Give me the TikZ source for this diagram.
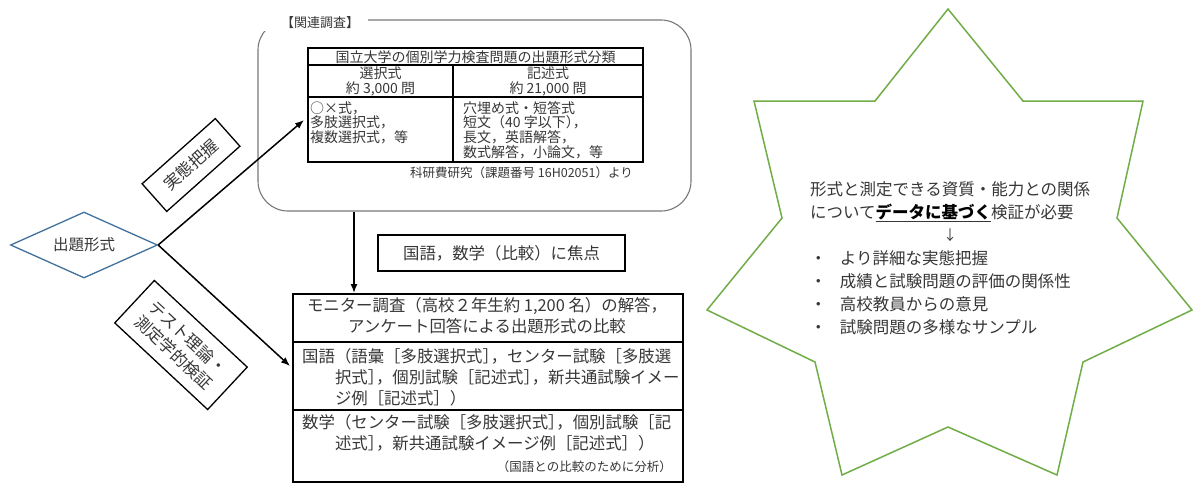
\documentclass[tikz,border=0pt]{standalone}
\usepackage{fontspec}
\setmainfont{Noto Sans CJK JP}
\usetikzlibrary{arrows.meta,shapes.geometric}
\definecolor{dblue}{RGB}{65,113,156}
\definecolor{sgreen}{RGB}{112,173,71}
\definecolor{txt}{RGB}{55,55,55}
\definecolor{framegray}{RGB}{120,120,120}
\newcommand{\fsz}[2]{\fontsize{#1}{#2}\selectfont}
\newcommand{\rk}{］\kern-0.5em，}
\newcommand{\pk}{）\kern-0.5em，}
\begin{document}
\begin{tikzpicture}[x=1pt,y=-1pt,
  every node/.style={inner sep=0pt, text=txt},
  arr/.style={line width=1.5pt, draw=black, -{Latex[length=9pt,width=7pt]}},
  tline/.style={line width=1.2pt, draw=black},
  tabtxt/.style={font=\fsz{14}{14.6}},
  bigtxt/.style={font=\fsz{16.4}{21}},
  startxt/.style={font=\fsz{16.5}{23}},
  labelbox/.style={draw=black, line width=1.3pt, font=\fsz{16.5}{21}, align=center}]
\useasboundingbox (0,0) rectangle (1193,483);
\fill[white] (0,0) rectangle (1193,483);

% ---- diamond ----
\node[diamond, draw=dblue, line width=1.3pt, minimum width=147pt, minimum height=66pt, aspect=2.23,
      font=\fsz{15.5}{18}] (dia) at (84,245) {出題形式};

% ---- related survey frame ----
\node[draw=framegray, line width=1.1pt, rounded corners=30pt, minimum width=433pt, minimum height=191pt] (frame) at (474.5,115.5) {};
\fill[white] (262,10) rectangle (368,31);
\node[font=\fsz{13}{15}] (flabel) at (320,23) {【関連調査】};

% ---- table ----
\node[tline, draw, minimum width=335pt, minimum height=114pt] (tbl) at (475.5,105) {};
\draw[tline] (tbl.west |- 0,65) -- (tbl.east |- 0,65);
\draw[tline] (tbl.west |- 0,97) -- (tbl.east |- 0,97);
\draw[tline] (453,65) -- (453,162);
\node[tabtxt] (ttitle) at (475.5,57.5) {国立大学の個別学力検査問題の出題形式分類};
\node[tabtxt, align=center] (h1) at (380.5,81.5) {選択式\\約 3,000 問};
\node[tabtxt, align=center] (h2) at (548,81.5) {記述式\\約 21,000 問};
\node[tabtxt, align=left, anchor=west] (c1) at (310,122.5) {○×式，\\多肢選択式，\\複数選択式，等};
\node[tabtxt, align=left, anchor=west] (c2) at (463,130) {穴埋め式・短答式\\短文（40 字以下\pk\\長文，英語解答，\\数式解答，小論文，等};
\node[font=\fsz{12.5}{14}, anchor=east] (cap) at (633,173) {科研費研究（課題番号 16H02051）より};

% ---- focus box ----
\node[draw=black, line width=1.3pt, minimum width=247pt, minimum height=36pt, font=\fsz{16.4}{20}] (focus) at (501.5,253) {国語，数学（比較）に焦点};

% ---- bottom box ----
\node[draw=black, line width=2pt, minimum width=390pt, minimum height=188pt] (bot) at (488,388) {};
\draw[tline] (bot.west |- 0,342) -- (bot.east |- 0,342);
\draw[tline] (bot.west |- 0,410) -- (bot.east |- 0,410);
\node[bigtxt, align=center] (b1) at (487,316) {モニター調査（高校２年生約 1,200 名）の解答，\\アンケート回答による出題形式の比較};
\node[bigtxt, align=left, anchor=west] (b2) at (302,377) {国語（語彙［多肢選択式\rk センター試験［多肢選\\\hspace*{2em}択式\rk 個別試験［記述式\rk 新共通試験イメー\\\hspace*{2em}ジ例［記述式］）};
\node[bigtxt, align=left, anchor=west] (b3) at (302,432.5) {数学（センター試験［多肢選択式\rk 個別試験［記\\\hspace*{2em}述式\rk 新共通試験イメージ例［記述式］）};
\node[font=\fsz{12.5}{14}, anchor=east] (b4) at (672,467) {（国語との比較のために分析）};

% ---- connectors ----
\coordinate (upend) at (304,120);
\coordinate (downend) at (290,366);
\coordinate (vx) at (354,0);
\draw[arr] (dia.east) -- (upend);
\draw[arr] (dia.east) -- (downend);
\draw[arr] (frame.south -| vx) -- (bot.north -| vx);

% ---- rotated labels ----
\node[labelbox, rotate=41.7, minimum width=98pt, minimum height=37pt] (jitai) at (191,165) {実態把握};
\node[labelbox, rotate=-43, minimum width=127pt, minimum height=58pt] (test) at (181,345) {テスト理論・\\測定学的検証};

% ---- star ----
\draw[sgreen, line width=1.5pt, line join=miter]
  (948,9) -- (875,101) -- (754,101) -- (782,218) -- (707,310) -- (815,362) -- (842,475)
  -- (948,427) -- (1057,475) -- (1083,362) -- (1192,310) -- (1117,218) -- (1143,101)
  -- (1023,101) -- cycle;
\node[startxt, align=left, anchor=west] (s1) at (810,201.5) {形式と測定できる資質・能力との関係\\について\underline{\textcolor{black}{\bfseries データに基づく}}検証が必要};
\node[font=\fsz{14}{16}] (s2) at (950,235) {↓};
\node[startxt, align=left, anchor=west] (s3) at (810,292.5) {・\hspace{0.8em}より詳細な実態把握\\・\hspace{0.8em}成績と試験問題の評価の関係性\\・\hspace{0.8em}高校教員からの意見\\・\hspace{0.8em}試験問題の多様なサンプル};
\end{tikzpicture}
\end{document}
